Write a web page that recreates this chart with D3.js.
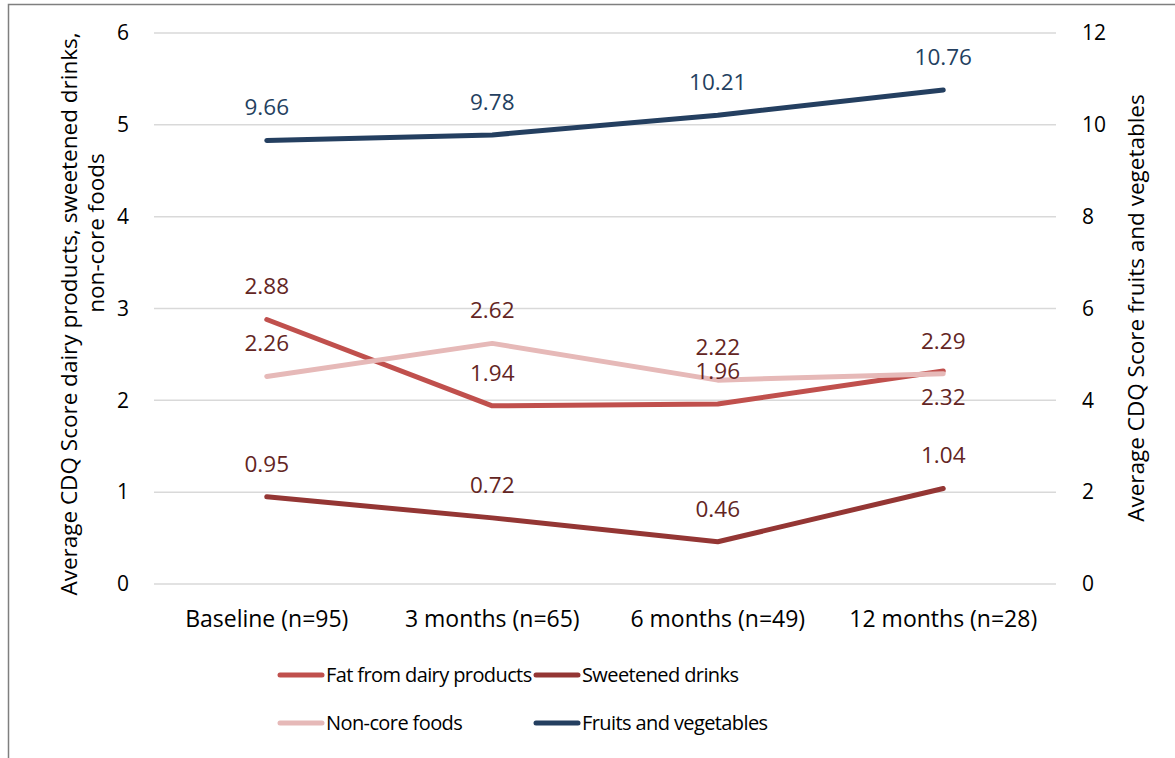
<!DOCTYPE html>
<html>
<head>
<meta charset="utf-8">
<script src="https://cdn.jsdelivr.net/npm/d3@7"></script>
<style>
  html, body { margin: 0; padding: 0; background: #fff; }
  svg { display: block; font-family: "Open Sans", "Noto Sans", sans-serif; }
</style>
</head>
<body>
<svg id="chart" width="1175" height="758"></svg>
<script>
// Time points
const categories = ["Baseline (n=95)", "3 months (n=65)", "6 months (n=49)", "12 months (n=28)"];

// Average CDQ scores per component
const fatDairy = [2.88, 1.94, 1.96, 2.32];
const sweetDrinks = [0.95, 0.72, 0.46, 1.04];
const nonCore = [2.26, 2.62, 2.22, 2.29];
const fruitsVeg = [9.66, 9.78, 10.21, 10.76];

const leftTicks = [0, 1, 2, 3, 4, 5, 6];
const rightTicks = [0, 2, 4, 6, 8, 10, 12];

const series = [
  { name: "Fat from dairy products", values: fatDairy, axis: "left", color: "#C0504D", labelColor: "#632523", below: [false, false, false, true] },
  { name: "Sweetened drinks", values: sweetDrinks, axis: "left", color: "#943634", labelColor: "#632523", below: [false, false, false, false] },
  { name: "Non-core foods", values: nonCore, axis: "left", color: "#E6B9B8", labelColor: "#632523", below: [false, false, false, false] },
  { name: "Fruits and vegetables", values: fruitsVeg, axis: "right", color: "#243F60", labelColor: "#243F60", below: [false, false, false, false] }
];

const svg = d3.select("#chart");
const margin = { left: 154, right: 1056, top: 33, bottom: 584 };

// Outer frame
svg.append("rect")
  .attr("x", 8.5).attr("y", 4.5)
  .attr("width", 1200).attr("height", 800)
  .attr("fill", "none").attr("stroke", "#7f7f7f").attr("stroke-width", 1.5);

const x = d3.scaleBand().domain(categories).range([margin.left, margin.right]).padding(0);
const yL = d3.scaleLinear().domain([0, 6]).range([margin.bottom, margin.top]);
const yR = d3.scaleLinear().domain([0, 12]).range([margin.bottom, margin.top]);

// Horizontal gridlines
svg.append("g")
  .selectAll("line")
  .data(leftTicks)
  .join("line")
  .attr("x1", margin.left).attr("x2", margin.right)
  .attr("y1", d => yL(d)).attr("y2", d => yL(d))
  .attr("stroke", "#d9d9d9").attr("stroke-width", 1.5);

// Left axis
const leftAxis = svg.append("g")
  .attr("transform", `translate(${margin.left},0)`)
  .call(d3.axisLeft(yL).tickValues(leftTicks).tickSize(0).tickPadding(25).tickFormat(d3.format("d")));
leftAxis.select(".domain").remove();
leftAxis.selectAll("text").attr("font-size", 21).attr("fill", "#000").attr("font-family", "Open Sans");

// Right axis
const rightAxis = svg.append("g")
  .attr("transform", `translate(${margin.right},0)`)
  .call(d3.axisRight(yR).tickValues(rightTicks).tickSize(0).tickPadding(26).tickFormat(d3.format("d")));
rightAxis.select(".domain").remove();
rightAxis.selectAll("text").attr("font-size", 21).attr("fill", "#000").attr("font-family", "Open Sans");

// Category axis
const bottomAxis = svg.append("g")
  .attr("transform", `translate(0,${margin.bottom})`)
  .call(d3.axisBottom(x).tickSize(0).tickPadding(27));
bottomAxis.select(".domain").remove();
bottomAxis.selectAll("text").attr("font-size", 23).attr("fill", "#000").attr("font-family", "Open Sans");

// Axis titles
svg.append("text")
  .attr("transform", "translate(69,314) rotate(-90)")
  .attr("text-anchor", "middle").attr("dy", "0.35em").attr("font-size", 22.5).attr("fill", "#000")
  .text("Average CDQ Score dairy products, sweetened drinks,");
svg.append("text")
  .attr("transform", "translate(96,233) rotate(-90)")
  .attr("text-anchor", "middle").attr("dy", "0.35em").attr("font-size", 22.5).attr("fill", "#000")
  .text("non-core foods");
svg.append("text")
  .attr("transform", "translate(1136,308) rotate(-90)")
  .attr("text-anchor", "middle").attr("dy", "0.35em").attr("font-size", 22.5).attr("fill", "#000")
  .text("Average CDQ Score fruits and vegetables");

const cx = c => x(c) + x.bandwidth() / 2;

// Lines
series.forEach(s => {
  const y = s.axis === "left" ? yL : yR;
  const line = d3.line().x((d, i) => cx(categories[i])).y(d => y(d));
  svg.append("path")
    .datum(s.values)
    .attr("d", line)
    .attr("fill", "none")
    .attr("stroke", s.color)
    .attr("stroke-width", 5)
    .attr("stroke-linecap", "round")
    .attr("stroke-linejoin", "round");
});

// Value labels
series.forEach(s => {
  const y = s.axis === "left" ? yL : yR;
  svg.append("g")
    .selectAll("text")
    .data(s.values)
    .join("text")
    .attr("x", (d, i) => cx(categories[i]))
    .attr("y", (d, i) => y(d) + (s.below[i] ? 26 : -33))
    .attr("dy", "0.35em")
    .attr("text-anchor", "middle")
    .attr("font-size", 22.5)
    .attr("fill", s.labelColor)
    .text(d => d.toFixed(2));
});

// Legend
const legendPos = [
  { x: 280, y: 675 },
  { x: 536, y: 675 },
  { x: 280, y: 723 },
  { x: 536, y: 723 }
];
const legend = svg.append("g")
  .selectAll("g")
  .data(series)
  .join("g")
  .attr("transform", (d, i) => `translate(${legendPos[i].x},${legendPos[i].y})`);
legend.append("line")
  .attr("x1", 0).attr("x2", 42)
  .attr("stroke", d => d.color).attr("stroke-width", 5).attr("stroke-linecap", "round");
legend.append("text")
  .attr("x", 46).attr("dy", "0.35em")
  .attr("font-size", 20).attr("letter-spacing", -0.6).attr("fill", "#000")
  .text(d => d.name);
</script>
</body>
</html>
